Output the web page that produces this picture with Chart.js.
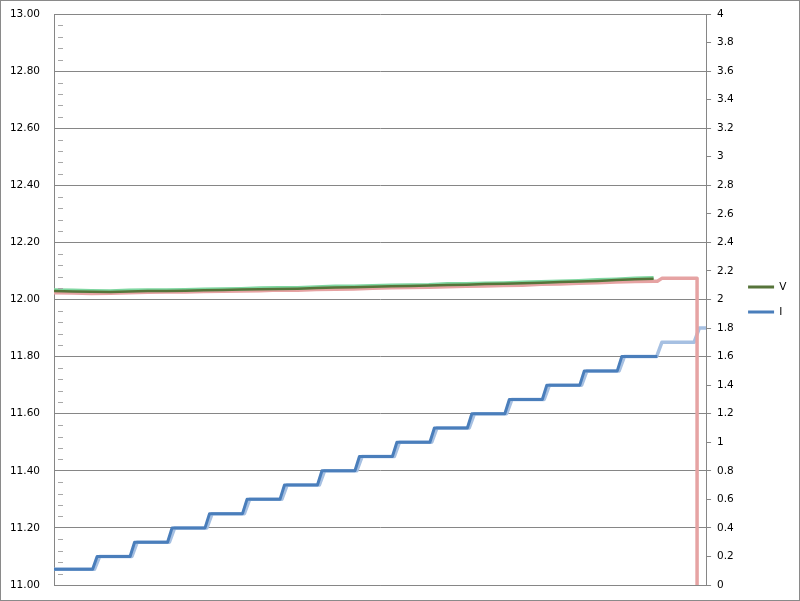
<!DOCTYPE html>
<html>
<head>
<meta charset="utf-8">
<script src="https://cdn.jsdelivr.net/npm/chart.js@4/dist/chart.umd.min.js"></script>
<style>
html,body{margin:0;padding:0;background:#fff;}
#wrap{width:800px;height:601px;position:relative;}
</style>
</head>
<body>
<div id="wrap"><canvas id="c" width="800" height="601"></canvas></div>
<script>
// ---- data (time in samples) ----
const vTime = [0,5,10,15,20,25,30,35,40,45,50,55,60,65,70,75,80,85,90,95,100,105,110,115,120,125,130,135,140,145,150,155,160];
const vMain = [12.030,12.028,12.027,12.026,12.028,12.030,12.030,12.031,12.032,12.033,12.035,12.036,12.037,12.038,12.040,12.042,12.043,12.045,12.046,12.047,12.049,12.051,12.052,12.054,12.055,12.057,12.059,12.061,12.063,12.065,12.068,12.071,12.073];
const vLight = [12.033,12.032,12.031,12.030,12.032,12.033,12.033,12.034,12.036,12.037,12.038,12.040,12.041,12.041,12.044,12.046,12.046,12.048,12.050,12.051,12.052,12.055,12.055,12.057,12.058,12.060,12.062,12.064,12.066,12.069,12.071,12.074,12.076];
const pinkTime = [0,5,10,15,20,25,30,35,40,45,50,55,60,65,70,75,80,85,90,95,100,105,110,115,120,125,130,135,140,145,150,155,160,161,162.2,171.6,171.6];
const pinkV = [12.024,12.023,12.021,12.022,12.024,12.025,12.026,12.026,12.028,12.029,12.030,12.031,12.033,12.032,12.035,12.036,12.037,12.039,12.041,12.042,12.043,12.045,12.046,12.047,12.049,12.050,12.053,12.054,12.057,12.059,12.061,12.063,12.064,12.064,12.074,12.074,11.0];
const iTime = [0,10.3,11.5,20.3,21.5,30.3,31.5,40.3,41.5,50.3,51.5,60.3,61.5,70.3,71.5,80.3,81.5,90.3,91.5,100.3,101.5,110.3,111.5,120.3,121.5,130.3,131.5,140.3,141.5,150.3,151.5,161];
const iMain = [0.11,0.11,0.2,0.2,0.3,0.3,0.4,0.4,0.5,0.5,0.6,0.6,0.7,0.7,0.8,0.8,0.9,0.9,1.0,1.0,1.1,1.1,1.2,1.2,1.3,1.3,1.4,1.4,1.5,1.5,1.6,1.6];
const i2Time = [0,10.8,12.2,20.8,22.2,30.8,32.2,40.8,42.2,50.8,52.2,60.8,62.2,70.8,72.2,80.8,82.2,90.8,92.2,100.8,102.2,110.8,112.2,120.8,122.2,130.8,132.2,140.8,142.2,150.8,152.2,160.8,162.2,170.8,172.2,174];
const iLight = [0.11,0.11,0.2,0.2,0.3,0.3,0.4,0.4,0.5,0.5,0.6,0.6,0.7,0.7,0.8,0.8,0.9,0.9,1.0,1.0,1.1,1.1,1.2,1.2,1.3,1.3,1.4,1.4,1.5,1.5,1.6,1.6,1.7,1.7,1.8,1.8];

const leftTicks = {min: 11, max: 13, step: 0.2};
const rightTicks = {min: 0, max: 4, step: 0.2};
const timeRange = {min: 0, max: 174};

const pts = (xs, ys) => xs.map((x, i) => ({x: x, y: ys[i]}));

const FONT = {family: 'DejaVu Sans', size: 10.5};
const GRID = '#868686';

const minorTicks = {
  id: 'minorTicks',
  afterDatasetsDraw(chart) {
    const {ctx, chartArea} = chart;
    const y = chart.scales.y;
    ctx.save();
    ctx.strokeStyle = '#a8a8a8';
    ctx.lineWidth = 1;
    for (let k = 0; k <= 50; k++) {
      if (k % 5 === 0) continue;
      const v = leftTicks.min + k * 0.04;
      const py = Math.round(y.getPixelForValue(v)) + 0.5;
      ctx.beginPath();
      ctx.moveTo(chartArea.left + 4, py);
      ctx.lineTo(chartArea.left + 9, py);
      ctx.stroke();
    }
    ctx.restore();
  },
  afterDraw(chart) {
    const ctx = chart.ctx;
    ctx.save();
    ctx.strokeStyle = '#8a8a8a';
    ctx.lineWidth = 1;
    ctx.strokeRect(0.5, 0.5, 799, 600);
    ctx.restore();
  }
};

new Chart(document.getElementById('c'), {
  type: 'line',
  data: {
    datasets: [
      {label: 'V', data: pts(vTime, vMain), yAxisID: 'y', borderColor: '#56743a', backgroundColor: '#56743a', borderWidth: 2.5},
      {label: 'I', data: pts(iTime, iMain), yAxisID: 'y2', borderColor: '#4a7ebb', backgroundColor: '#4a7ebb', borderWidth: 3},
      {label: 'V run 2', data: pts(vTime, vLight), yAxisID: 'y', borderColor: '#7fd6a0', backgroundColor: '#7fd6a0', borderWidth: 3.5},
      {label: 'V run 3', data: pts(pinkTime, pinkV), yAxisID: 'y', borderColor: '#e6a3a3', backgroundColor: '#e6a3a3', borderWidth: 3.5},
      {label: 'I run 3', data: pts(i2Time, iLight), yAxisID: 'y2', borderColor: '#a6c0e2', backgroundColor: '#a6c0e2', borderWidth: 3.5}
    ]
  },
  options: {
    responsive: false,
    animation: false,
    events: [],
    elements: {point: {radius: 0}, line: {tension: 0, borderJoinStyle: 'round', borderCapStyle: 'butt'}},
    layout: {padding: {left: 10, right: 3.5, top: 14, bottom: 16}},
    plugins: {
      tooltip: {enabled: false},
      legend: {
        position: 'right',
        labels: {
          font: FONT,
          color: '#000',
          boxWidth: 26,
          boxHeight: 3,
          padding: 14.5,
          generateLabels(chart) {
            return Chart.defaults.plugins.legend.labels.generateLabels(chart)
              .filter(l => l.text === 'V' || l.text === 'I')
              .map(l => Object.assign(l, {fillStyle: l.strokeStyle, lineWidth: 0}));
          }
        }
      }
    },
    scales: {
      x: {
        type: 'linear', min: timeRange.min, max: timeRange.max,
        ticks: {display: false},
        grid: {display: false, drawTicks: false},
        border: {display: true, color: GRID}
      },
      y: {
        position: 'left', min: leftTicks.min, max: leftTicks.max,
        afterFit: s => { s.width = 44; },
        ticks: {stepSize: leftTicks.step, padding: 0, color: '#000', font: FONT, callback: v => Number(v).toFixed(2)},
        grid: {color: GRID, drawTicks: true, tickLength: 14, tickColor: 'rgba(0,0,0,0)'},
        border: {color: GRID}
      },
      y2: {
        position: 'right', min: rightTicks.min, max: rightTicks.max,
        afterFit: s => { s.width = 27.5; },
        ticks: {stepSize: rightTicks.step, padding: 6, color: '#000', font: FONT, callback: v => String(Math.round(v * 10) / 10)},
        grid: {drawOnChartArea: false, drawTicks: true, tickLength: 5, color: GRID},
        border: {color: GRID}
      }
    }
  },
  plugins: [minorTicks]
});
</script>
</body>
</html>
